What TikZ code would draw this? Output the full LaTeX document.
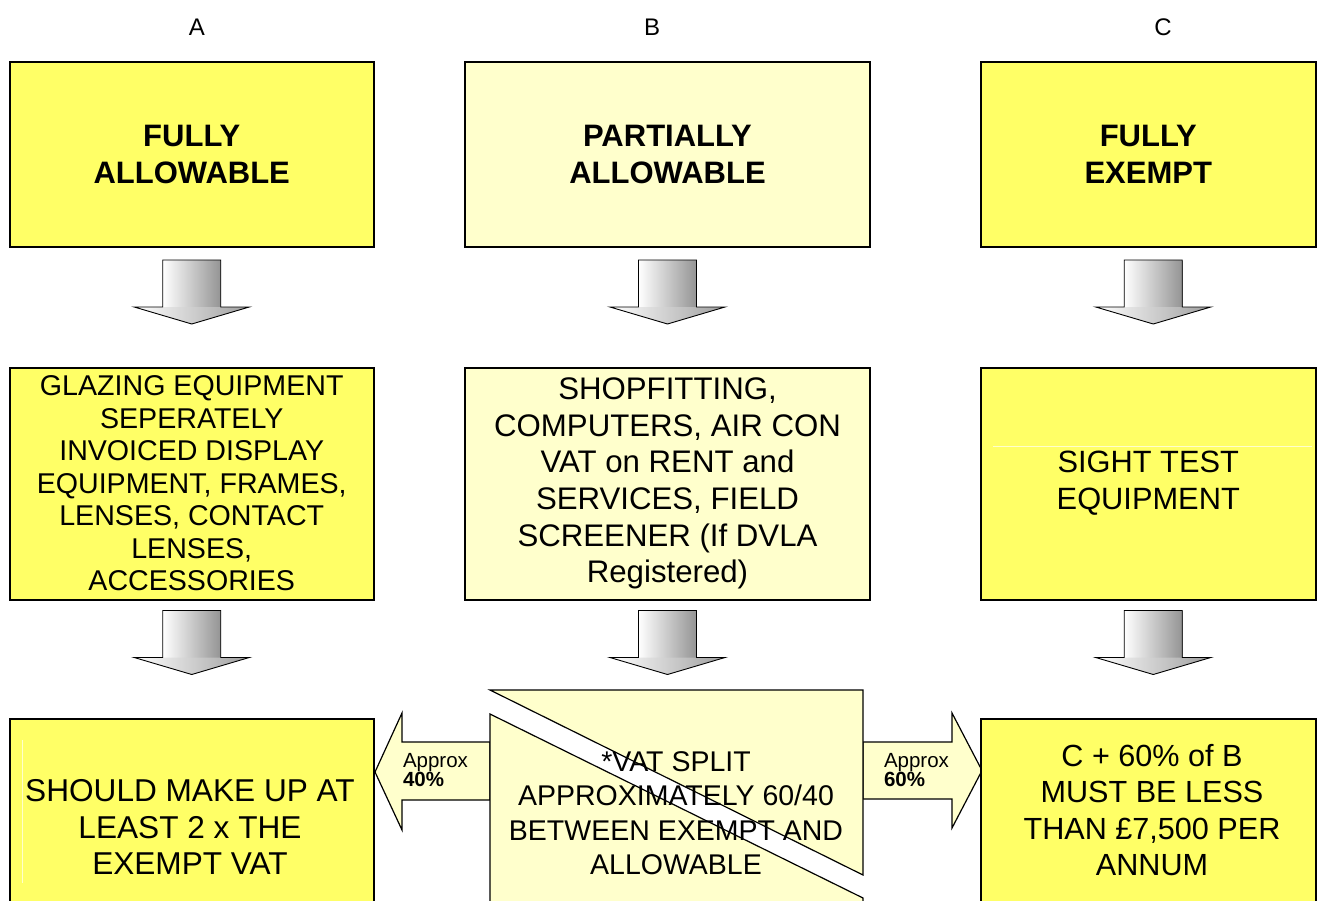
\documentclass[tikz,border=0pt]{standalone}
\usepackage{fontspec}
\setmainfont{Liberation Sans}
\usetikzlibrary{calc}
\definecolor{bright}{HTML}{FFFF66}
\definecolor{pale}{HTML}{FFFFCC}
\newcommand{\myfs}[2]{\fontsize{#1}{#2}\selectfont}
\tikzset{
  box/.style={draw=black, line width=2pt, inner sep=0pt, outer sep=0pt, align=center, anchor=north west},
  title/.style={font=\myfs{31}{37}\bfseries},
  label/.style={inner sep=0pt, outer sep=0pt, align=center},
  colhead/.style={inner sep=0pt, font=\myfs{24}{28}},
  approx/.style={inner sep=0pt, outer sep=0pt, align=left, anchor=north west, font=\myfs{20.5}{16}},
  shape line/.style={draw=black, line width=1.2pt, line join=miter},
  faint/.style={draw=pale, line width=0.8pt},
  downarrow/.pic={
    \shade[left color=white, right color=black!42] (-29,0) rectangle (29,47);
    \shade[left color=white, right color=black!38] (-57.5,47) -- (57.5,47) -- (0,64) -- cycle;
    \draw[black, line width=0.9pt, line join=miter] (-29,0) -- (29,0) -- (29,47) -- (57.5,47) -- (0,64) -- (-57.5,47) -- (-29,47) -- cycle;
  }
}
\begin{document}
\begin{tikzpicture}[x=1pt,y=-1pt]
\clip (0,0) rectangle (1327,900);
\fill[white] (0,0) rectangle (1327,900);

% column headings
\node[colhead] (hA) at (197,27) {A};
\node[colhead] (hB) at (652,27) {B};
\node[colhead] (hC) at (1163,27) {C};

% top row
\node[box, title, fill=bright, minimum width=364.5pt, minimum height=185pt] (ta) at (9.5,61.5) {FULLY\\ALLOWABLE};
\node[box, title, fill=pale, minimum width=405pt, minimum height=185pt] (tb) at (465,61.5) {PARTIALLY\\ALLOWABLE};
\node[box, title, fill=bright, minimum width=335.5pt, minimum height=185pt] (tc) at (980.5,61.5) {FULLY\\EXEMPT};

% middle row
\node[box, fill=bright, minimum width=364.5pt, minimum height=232pt, font=\myfs{28.6}{32.5}] (ma) at (9.5,367.5)
  {GLAZING EQUIPMENT\\SEPERATELY\\INVOICED DISPLAY\\EQUIPMENT, FRAMES,\\LENSES, CONTACT\\LENSES,\\ACCESSORIES};
\node[box, fill=pale, minimum width=405pt, minimum height=232pt, font=\myfs{31.2}{36.7}] (mb) at (465,367.5)
  {SHOPFITTING,\\COMPUTERS, AIR CON\\VAT on RENT and\\SERVICES, FIELD\\SCREENER (If DVLA\\Registered)};
\node[box, fill=bright, minimum width=335.5pt, minimum height=232pt, font=\myfs{30.8}{37}] (mc) at (980.5,367.5)
  {SIGHT TEST\\EQUIPMENT};
\draw[faint] (993,446) -- (1312,446);

% down arrows
\pic at ($(ta.south)+(0,13.5)$) {downarrow};
\pic at ($(tb.south)+(0,13.5)$) {downarrow};
\pic at ($(tc.south)+(5,13.5)$) {downarrow};
\pic at ($(ma.south)+(0,11)$) {downarrow};
\pic at ($(mb.south)+(0,11)$) {downarrow};
\pic at ($(mc.south)+(5,11)$) {downarrow};

% side arrows
\path[shape line, fill=pale] (490,742) -- (402,742) -- (402,713) -- (375,772) -- (402,830) -- (402,800) -- (490,800) -- cycle;
\path[shape line, fill=pale] (863,742) -- (952,742) -- (952,713) -- (982,770.5) -- (952,828) -- (952,799) -- (863,799) -- cycle;
\node[approx] (la) at (403,753) {Approx\\\textbf{40\%}};
\node[approx] (lc) at (884,753) {Approx\\\textbf{60\%}};

% bottom row
\node[box, fill=bright, minimum width=364.5pt, minimum height=220pt] (ba) at (9.5,718.5) {};
\node[box, fill=bright, minimum width=335.5pt, minimum height=220pt] (bc) at (980.5,718.5) {};
\draw[faint] (22,740) -- (22,883);
\node[label, font=\myfs{31.6}{36.7}] (bat) at (190,827) {SHOULD MAKE UP AT\\LEAST 2 x THE\\EXEMPT VAT};
\node[label, font=\myfs{30.6}{36.5}] (bct) at (1152,810) {C + 60\% of B\\MUST BE LESS\\THAN £7,500 PER\\ANNUM};

% split shape
\path[shape line, fill=pale] (490,690) -- (863,690) -- (863,875) -- cycle;
\path[shape line, fill=pale] (490,714) -- (863,898) -- (863,940) -- (490,940) -- cycle;
\node[label, font=\myfs{28.5}{34.5}] (bbt) at (676,813) {*VAT SPLIT\\APPROXIMATELY 60/40\\BETWEEN EXEMPT AND\\ALLOWABLE};
\end{tikzpicture}
\end{document}
